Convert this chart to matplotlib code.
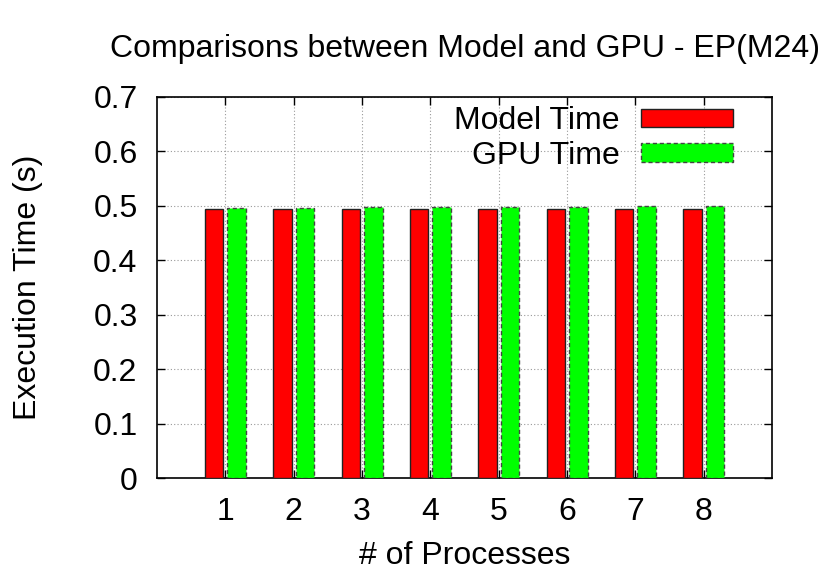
import matplotlib
matplotlib.use("Agg")
import numpy as np
import matplotlib.pyplot as plt

plt.rcParams['font.family'] = ['Liberation Sans', 'DejaVu Sans']

processes = [1, 2, 3, 4, 5, 6, 7, 8]
model_time = [0.495, 0.495, 0.495, 0.495, 0.495, 0.495, 0.495, 0.495]
gpu_time = [0.496, 0.496, 0.497, 0.497, 0.498, 0.498, 0.499, 0.499]


def main():
    fig = plt.figure(figsize=(8.3, 5.81), dpi=100)
    ax = fig.add_axes([157/830, 1 - 478/581, (772-157)/830, (478-97)/581])
    x = np.array(processes)
    w = 0.27
    ax.bar(x - 0.165, model_time, w, color='#ff0000', edgecolor='#222222',
           linewidth=1.0, label='Model Time', zorder=3)
    ax.bar(x + 0.165, gpu_time, w, color='#00ff00', edgecolor='#444444',
           linewidth=1.0, linestyle=(0, (3, 2)), label='GPU Time', zorder=3)

    ax.set_xlim(0, 9)
    ax.set_ylim(0, 0.7)
    ax.set_xticks(processes)
    ax.set_yticks(np.arange(0, 0.71, 0.1))
    ax.set_yticklabels(['0', '0.1', '0.2', '0.3', '0.4', '0.5', '0.6', '0.7'])
    ax.tick_params(direction='in', top=True, right=True, labelsize=23,
                   length=6, width=1, pad=14)
    ax.grid(True, color='#999999', linestyle=(0, (1, 2)), linewidth=0.8, zorder=0)
    for s in ax.spines.values():
        s.set_linewidth(1.2)

    ax.set_title('Comparisons between Model and GPU - EP(M24)', fontsize=23, pad=29)
    ax.set_xlabel('# of Processes', fontsize=23, labelpad=10)
    ax.set_ylabel('Execution Time (s)', fontsize=23, labelpad=36)

    leg = ax.legend(loc='upper right', bbox_to_anchor=(0.9366, 0.976), frameon=False,
                    fontsize=23, markerfirst=False, handlelength=2.88,
                    handleheight=0.5, labelspacing=0.15, handletextpad=0.66,
                    borderpad=0, borderaxespad=0)
    for t in leg.get_texts():
        t.set_ha('right')

    fig.savefig('out.png', dpi=100)


main()
